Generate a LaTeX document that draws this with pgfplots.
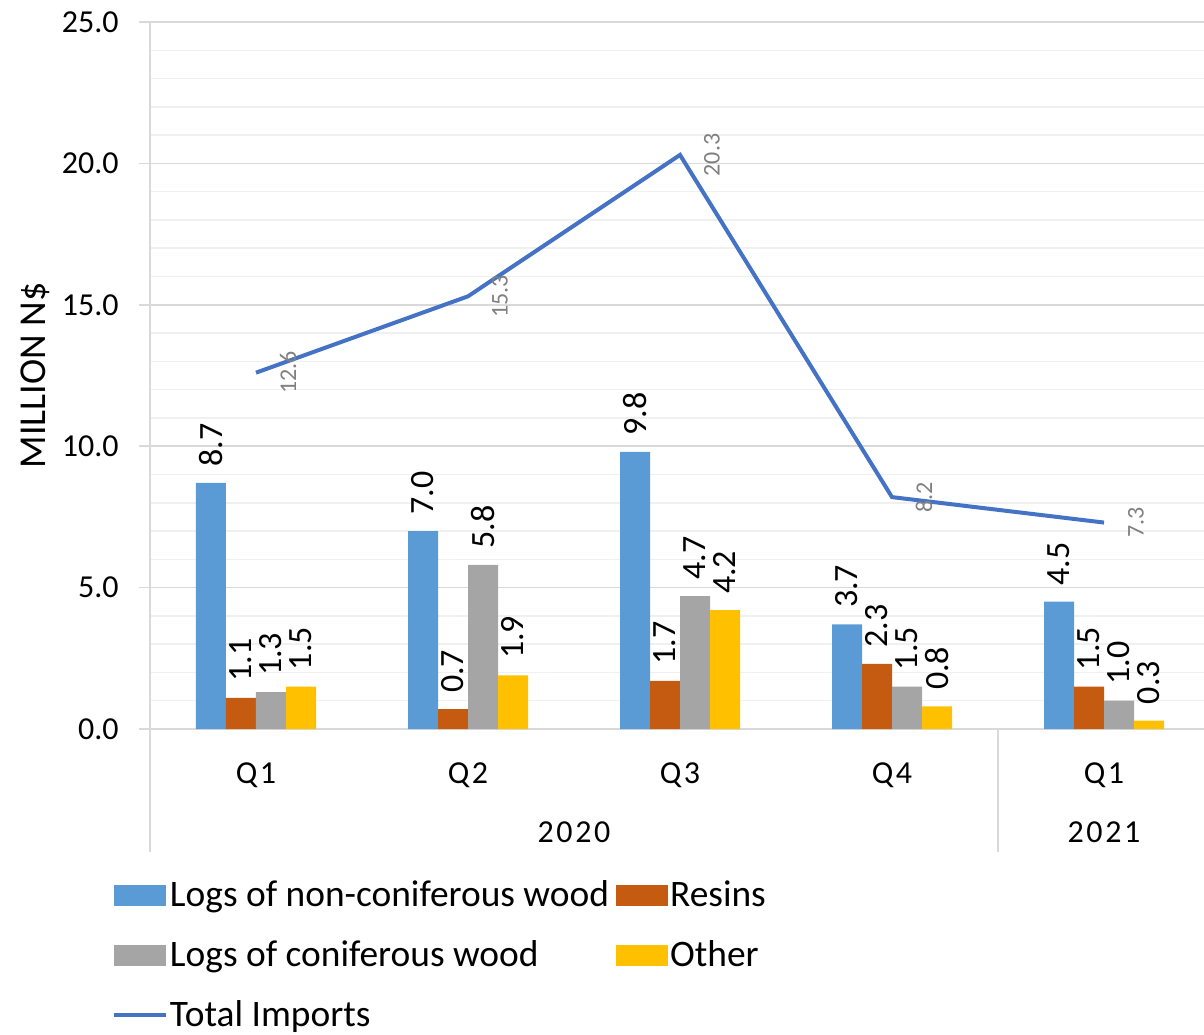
\documentclass[border=0pt]{standalone}
\usepackage{pgfplots}
\pgfplotsset{compat=1.18}
\usepackage{fontspec}
\setmainfont{Carlito}
\newfontfamily\spaced[LetterSpace=8]{Carlito}
\definecolor{cblue}{HTML}{5B9BD5}
\definecolor{corange}{HTML}{C55A11}
\definecolor{cgray}{HTML}{A5A5A5}
\definecolor{cyellow}{HTML}{FFC000}
\definecolor{cline}{HTML}{4472C4}
\definecolor{gridmaj}{HTML}{D9D9D9}
\definecolor{gridmin}{HTML}{F0F0F0}
\definecolor{lbl}{HTML}{808080}
\pgfplotsset{
  barlbl/.style={nodes near coords, every node near coord/.append style={xshift=#1, rotate=90, anchor=west, inner sep=0pt, inner xsep=8pt, font=\fontsize{17}{20}\selectfont, text=black}},
  barleg/.style={legend image code/.code={\fill[##1] (0pt,-5.25pt) rectangle (26pt,5.25pt);}},
  lineleg/.style={legend image code/.code={\draw[##1] (0pt,0pt) -- (26pt,0pt);}},
}
\begin{document}
\begin{tikzpicture}
\begin{axis}[name=ax, scale only axis, width=530pt, height=353.5pt,
  xmin=-0.5, xmax=4.5, ymin=0, ymax=25, clip=false,
  axis x line*=bottom, axis y line*=left,
  axis line style={gridmaj, line width=0.75pt},
  xtick={0,1,2,3,4}, xticklabels={Q1,Q2,Q3,Q4,Q1},
  xtick style={draw=none},
  xticklabel style={anchor=center, yshift=-17.5pt, font=\spaced\fontsize{16}{19}\selectfont},
  ytick={0,5,10,15,20,25},
  minor y tick num=4,
  ymajorgrids, yminorgrids,
  major grid style={gridmaj, line width=0.75pt},
  minor grid style={gridmin, line width=0.75pt},
  tick align=outside, major tick length=5.5pt, minor tick length=0pt,
  ytick style={gridmaj, line width=0.75pt},
  yticklabel style={font=\fontsize{16}{19}\selectfont, anchor=east, inner sep=0pt, xshift=-10pt},
  /pgf/number format/.cd, fixed, fixed zerofill, precision=1, assume math mode=true, /pgfplots/.cd,
  ylabel={MILLION N\$},
  ylabel style={at={(axis description cs:-0.1085,0.5)}, anchor=center, font=\fontsize{19}{22}\selectfont},
  legend style={at={(axis description cs:0,0)}, anchor=north west, xshift=-19pt, yshift=-76pt,
    draw=none, fill=none, inner sep=0pt, outer sep=0pt,
    font=\fontsize{18.7}{22}\selectfont, column sep=1pt, row sep=15.5pt,
    /tikz/every even column/.append style={column sep=3.5pt},
    nodes={inner sep=0pt}},
  legend cell align=left, legend columns=2,
]
\addplot[ybar, bar width=15pt, bar shift=-22.5pt, fill=cblue, draw=none, barlbl=-22.5pt, barleg]
  coordinates {(0,8.7) (1,7.0) (2,9.8) (3,3.7) (4,4.5)};
\addlegendentry{Logs of non-coniferous wood}
\addplot[ybar, bar width=15pt, bar shift=-7.5pt, fill=corange, draw=none, barlbl=-7.5pt, barleg]
  coordinates {(0,1.1) (1,0.7) (2,1.7) (3,2.3) (4,1.5)};
\addlegendentry{Resins}
\addplot[ybar, bar width=15pt, bar shift=7.5pt, fill=cgray, draw=none, barlbl=7.5pt, barleg]
  coordinates {(0,1.3) (1,5.8) (2,4.7) (3,1.5) (4,1.0)};
\addlegendentry{Logs of coniferous wood}
\addplot[ybar, bar width=15pt, bar shift=22.5pt, fill=cyellow, draw=none, barlbl=22.5pt, barleg]
  coordinates {(0,1.5) (1,1.9) (2,4.2) (3,0.8) (4,0.3)};
\addlegendentry{Other}
\addplot[color=cline, line width=2pt, mark=none, sharp plot, lineleg,
  nodes near coords, every node near coord/.append style={xshift=16pt, rotate=90, anchor=center, inner sep=0pt, font=\fontsize{12}{14}\selectfont, text=lbl}]
  coordinates {(0,12.6) (1,15.3) (2,20.3) (3,8.2) (4,7.3)};
\addlegendentry{Total Imports}
\draw[gridmaj, line width=0.75pt] (axis cs:-0.5,0) -- ([yshift=-61.5pt]axis cs:-0.5,0);
\draw[gridmaj, line width=0.75pt] (axis cs:3.5,0) -- ([yshift=-61.5pt]axis cs:3.5,0);
\node[font=\spaced\fontsize{16}{19}\selectfont, anchor=center] at ([yshift=-51.5pt]axis cs:1.5,0) {2020};
\node[font=\spaced\fontsize{16}{19}\selectfont, anchor=center] at ([yshift=-51.5pt]axis cs:4,0) {2021};
\end{axis}
\pgfresetboundingbox
\path[use as bounding box] ([xshift=-75pt,yshift=-152.5pt]ax.south west) rectangle ([xshift=-3pt,yshift=11pt]ax.north east);
\end{tikzpicture}
\end{document}
